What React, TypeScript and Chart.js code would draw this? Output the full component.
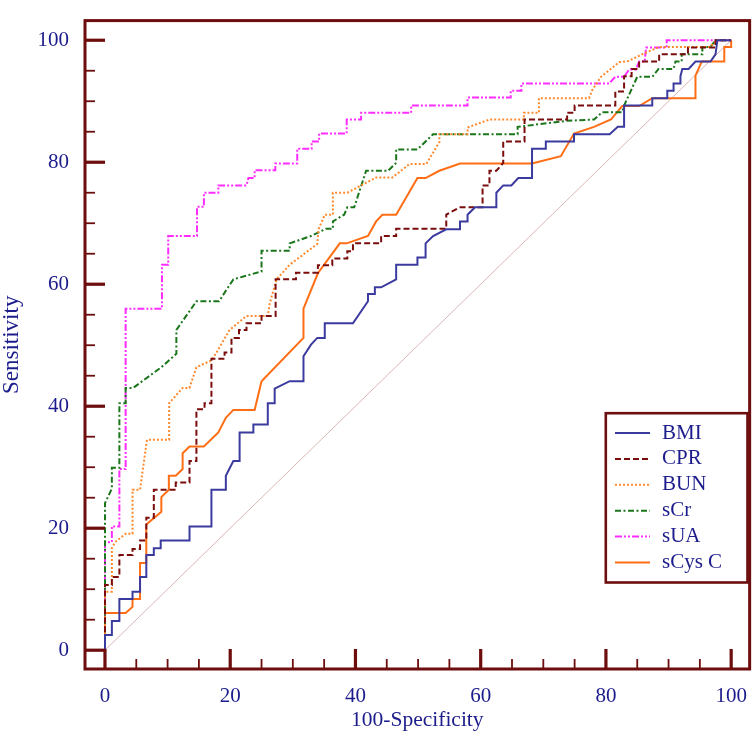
import React, { useEffect, useRef } from "react";
import { Chart, registerables } from "chart.js";

Chart.register(...registerables);

type Pt = [number, number];

// ROC curves: [100 - specificity, sensitivity]
const BMI: Pt[] = [
  [0, 0], [0, 2.5], [1.1, 2.5], [1.1, 4.8], [2.3, 4.8], [2.3, 8.4], [4.4, 8.4], [4.4, 9.6],
  [5.6, 9.6], [5.6, 12.0], [6.6, 12.0], [6.6, 15.6], [7.8, 15.6], [7.8, 16.7], [8.9, 16.7],
  [8.9, 18.0], [13.5, 18.0], [13.5, 20.3], [17.0, 20.3], [17.0, 26.3], [19.3, 26.3], [19.3, 28.6],
  [20.5, 31.0], [21.5, 31.0], [21.5, 35.7], [23.7, 35.7], [23.7, 37.0], [26.0, 37.0], [26.0, 40.5],
  [27.1, 40.5], [27.1, 42.9], [29.5, 44.1], [31.7, 44.1], [31.7, 48.2], [32.9, 50.1], [33.9, 51.2],
  [35.1, 51.2], [35.1, 53.6], [39.6, 53.6], [42.0, 57.2], [42.0, 58.4], [43.1, 58.4], [43.1, 59.5],
  [44.1, 59.5], [46.5, 60.8], [46.5, 63.2], [49.9, 63.2], [49.9, 64.4], [51.2, 64.4], [51.2, 66.7],
  [52.4, 67.9], [54.5, 69.0], [56.7, 69.0], [56.7, 70.3], [57.9, 70.3], [57.9, 71.4], [59.1, 72.6],
  [62.5, 72.6], [62.5, 75.0], [63.6, 76.2], [64.9, 76.2], [66.0, 77.4], [68.2, 77.4], [68.2, 82.2],
  [70.4, 82.2], [70.4, 83.4], [74.9, 83.4], [74.9, 84.6], [80.6, 84.6], [81.9, 85.8], [82.9, 85.8],
  [82.9, 89.3], [87.4, 89.3], [87.4, 90.5], [89.8, 90.5], [89.8, 91.7], [90.8, 91.7], [90.8, 92.9],
  [91.9, 92.9], [91.9, 94.1], [92.2, 95.3], [93.2, 95.3], [94.3, 96.5], [96.7, 96.5], [97.5, 97.7],
  [97.8, 100], [100, 100],
];

const CPR: Pt[] = [
  [0, 0], [0, 10.7], [1.1, 10.7], [1.1, 12.0], [2.3, 12.0], [2.3, 15.6], [4.4, 15.6], [4.4, 16.6],
  [5.6, 16.6], [5.6, 18.0], [6.6, 18.0], [6.6, 21.7], [7.8, 21.7], [7.8, 26.3], [11.3, 26.3],
  [11.3, 27.5], [13.5, 27.5], [13.5, 31.0], [14.6, 31.0], [14.6, 39.5], [15.9, 39.5], [15.9, 40.5],
  [17.0, 40.5], [17.0, 47.8], [19.1, 47.8], [19.1, 48.8], [20.2, 48.8], [20.2, 51.2], [21.4, 51.2],
  [21.4, 52.5], [22.6, 52.5], [22.6, 53.6], [25.0, 53.6], [25.0, 54.8], [27.25, 54.8], [27.25, 60.8],
  [30.5, 60.8], [30.5, 61.9], [34.0, 61.9], [34.0, 63.1], [36.3, 63.1], [36.3, 64.2], [38.7, 64.2],
  [38.7, 65.4], [39.6, 65.4], [39.6, 66.7], [44.1, 66.7], [44.1, 67.9], [46.5, 67.9], [46.5, 69.1],
  [54.5, 69.1], [54.5, 71.4], [56.6, 72.6], [60.3, 72.6], [60.3, 76.2], [61.4, 76.2], [61.4, 78.6],
  [62.5, 78.6], [63.6, 79.9], [63.6, 83.4], [67.0, 83.4], [67.0, 87.0], [73.8, 87.0], [73.8, 88.1],
  [75.0, 88.1], [75.0, 89.3], [81.5, 89.3], [81.5, 91.6], [82.9, 91.6], [82.9, 94.1], [84.1, 94.1],
  [84.1, 95.3], [85.3, 95.3], [85.3, 96.5], [88.5, 96.5], [88.5, 97.7], [93.1, 97.7], [93.1, 98.8],
  [97.5, 98.8], [97.5, 100], [100, 100],
];

const BUN: Pt[] = [
  [0, 0], [0, 9.6], [1.1, 9.6], [1.1, 16.7], [1.6, 17.7], [3.3, 19.1], [4.4, 19.1], [4.4, 26.3],
  [5.6, 26.3], [6.7, 34.5], [10.25, 34.5], [10.25, 40.5], [11.2, 41.6], [12.4, 43.0], [13.5, 43.0],
  [14.6, 46.4], [17.0, 47.5], [17.8, 48.8], [19.9, 52.5], [22.6, 54.8], [26.0, 54.8], [26.3, 56.8],
  [27.4, 60.8], [29.5, 63.2], [33.9, 66.6], [34.1, 69.0], [35.1, 71.4], [36.4, 71.4], [36.4, 75.0],
  [38.7, 75.0], [40.9, 76.2], [43.3, 77.5], [45.9, 77.5], [48.6, 79.7], [51.3, 79.7], [53.4, 83.3],
  [53.4, 84.6], [57.9, 84.6], [57.9, 85.7], [61.4, 87.0], [66.9, 87.0], [66.9, 88.1], [69.3, 88.1],
  [69.3, 90.5], [77.3, 90.5], [77.8, 91.8], [79.2, 94.0], [82.1, 96.4], [83.6, 96.6], [85.8, 97.7],
  [88.5, 98.9], [96.6, 98.9], [97.7, 100], [100, 100],
];

const SCR: Pt[] = [
  [0, 0], [0, 24.1], [1.1, 26.5], [1.1, 29.9], [2.3, 29.9], [2.3, 40.5], [3.3, 40.5], [3.3, 43.0],
  [4.5, 43.0], [9.0, 46.4], [11.4, 48.6], [11.4, 52.5], [14.6, 57.2], [18.2, 57.2], [20.5, 60.8],
  [25.0, 62.1], [25.0, 65.5], [29.5, 65.5], [29.5, 66.7], [32.9, 67.9], [35.3, 69.1], [36.4, 69.1],
  [36.4, 70.3], [38.2, 71.4], [38.7, 72.6], [39.8, 72.6], [41.7, 78.6], [45.2, 78.6], [46.5, 79.9],
  [46.5, 82.1], [49.9, 82.1], [52.4, 84.6], [65.9, 84.6], [65.9, 85.8], [73.8, 86.8], [78.1, 87.0],
  [79.4, 88.2], [82.6, 88.2], [82.9, 89.3], [85.0, 94.0], [87.4, 94.0], [88.4, 95.3], [90.8, 95.3],
  [91.1, 96.5], [92.1, 96.5], [92.1, 97.7], [95.4, 97.7], [95.4, 98.9], [96.7, 98.9], [97.5, 100],
  [100, 100],
];

const SUA: Pt[] = [
  [0, 0], [0, 17.7], [1.1, 17.7], [1.1, 20.3], [2.3, 20.3], [2.3, 29.7], [3.3, 29.7], [3.3, 56.0],
  [9.1, 56.0], [9.1, 63.2], [10.1, 63.2], [10.1, 67.9], [14.7, 67.9], [14.7, 72.7], [15.8, 72.7],
  [15.8, 75.0], [18.1, 75.0], [18.1, 76.2], [22.6, 76.2], [22.9, 77.4], [23.9, 77.4], [23.9, 78.7],
  [27.2, 78.7], [27.2, 79.8], [30.7, 79.8], [30.7, 82.2], [33.0, 82.2], [33.0, 83.4], [34.2, 83.4],
  [34.2, 84.7], [38.6, 84.7], [38.6, 87.0], [40.9, 87.0], [40.9, 88.1], [48.9, 88.1], [48.9, 89.3],
  [57.9, 89.3], [57.9, 90.6], [64.8, 90.6], [64.8, 91.7], [66.5, 91.7], [66.5, 92.9], [80.5, 92.9],
  [81.5, 94.0], [82.9, 94.0], [83.7, 95.2], [84.8, 95.2], [85.3, 96.5], [86.2, 96.5], [86.4, 98.8],
  [89.7, 98.8], [89.7, 100], [100, 100],
];

const SCYSC: Pt[] = [
  [0, 0], [0, 6.1], [3.3, 6.1], [4.4, 7.1], [4.4, 8.4], [5.6, 8.4], [5.6, 14.3], [6.6, 14.3],
  [6.6, 20.6], [9.0, 22.7], [9.0, 25.1], [10.2, 26.3], [10.2, 28.6], [11.3, 28.6], [12.4, 29.7],
  [12.4, 32.3], [13.5, 33.4], [15.8, 33.4], [18.1, 35.7], [19.3, 38.1], [20.5, 39.4], [23.9, 39.4],
  [25.0, 44.1], [31.7, 51.2], [31.7, 56.0], [34.0, 61.8], [37.5, 66.7], [38.6, 66.7], [42.0, 67.9],
  [43.3, 70.3], [44.3, 71.4], [46.5, 71.4], [49.9, 77.4], [51.2, 77.4], [53.4, 78.6], [56.7, 79.8],
  [68.2, 79.8], [72.8, 81.0], [74.9, 84.7], [78.1, 85.8], [80.8, 87.0], [82.6, 89.2], [85.3, 89.2],
  [87.4, 90.5], [94.3, 90.5], [94.3, 94.2], [95.3, 96.5], [98.9, 96.5], [98.9, 98.9], [100, 98.9],
  [100, 100],
];

const REFERENCE_LINE: Pt[] = [[0, 0], [100, 100]];

const SERIES_NAMES = ["BMI", "CPR", "BUN", "sCr", "sUA", "sCys C"];
const SERIES_DATA = [BMI, CPR, BUN, SCR, SUA, SCYSC];
const SERIES_COLORS = ["#3b3b9f", "#7a0c0c", "#ff8a2e", "#1a761a", "#ff2cff", "#ff6e14"];
const SERIES_DASHES: number[][] = [[], [6, 3], [2, 2], [6, 2.5, 2, 2.5], [7, 2, 2, 2, 2, 2], []];

const AXIS_TICKS = [0, 20, 40, 60, 80, 100];
const MINOR_TICKS = [5, 10, 15, 25, 30, 35, 45, 50, 55, 65, 70, 75, 85, 90, 95];

const FRAME_COLOR = "#6d0d0d";
const TEXT_COLOR = "#1c1c8c";
const FONT = "'Liberation Serif', 'Times New Roman', serif";

const framePlugin = {
  id: "rocFrame",
  afterDraw(chart: any) {
    const { ctx, chartArea: a, scales } = chart;
    const xs = scales.x;
    const ys = scales.y;
    ctx.save();
    ctx.strokeStyle = FRAME_COLOR;
    ctx.lineCap = "butt";

    // inward tick marks on the left and bottom edges
    ctx.lineWidth = 3.2;
    for (const v of AXIS_TICKS) {
      const py = ys.getPixelForValue(v);
      ctx.beginPath();
      ctx.moveTo(a.left, py);
      ctx.lineTo(a.left + 20, py);
      ctx.stroke();
      const px = xs.getPixelForValue(v);
      ctx.beginPath();
      ctx.moveTo(px, a.bottom);
      ctx.lineTo(px, a.bottom - 20);
      ctx.stroke();
    }
    ctx.lineWidth = 1.8;
    for (const v of MINOR_TICKS) {
      const py = ys.getPixelForValue(v);
      ctx.beginPath();
      ctx.moveTo(a.left, py);
      ctx.lineTo(a.left + 10, py);
      ctx.stroke();
      const px = xs.getPixelForValue(v);
      ctx.beginPath();
      ctx.moveTo(px, a.bottom);
      ctx.lineTo(px, a.bottom - 10);
      ctx.stroke();
    }

    // frame
    ctx.lineWidth = 3;
    ctx.strokeRect(a.left, a.top, a.right - a.left, a.bottom - a.top);

    // legend box
    const bx = 605.8, by = 413.2, bw = 141.7, bh = 169.3;
    ctx.fillStyle = "#ffffff";
    ctx.fillRect(bx, by, bw, bh);
    ctx.lineWidth = 2.6;
    ctx.strokeRect(bx, by, bw, bh);

    ctx.font = `21px ${FONT}`;
    ctx.textBaseline = "middle";
    ctx.textAlign = "left";
    chart.data.datasets.forEach((ds: any, i: number) => {
      if (i >= SERIES_NAMES.length) return;
      const rowY = 433 + i * 25.9;
      ctx.save();
      ctx.strokeStyle = ds.borderColor;
      ctx.lineWidth = 2;
      ctx.setLineDash(ds.borderDash || []);
      ctx.beginPath();
      ctx.moveTo(615, rowY);
      ctx.lineTo(650, rowY);
      ctx.stroke();
      ctx.restore();
      ctx.fillStyle = TEXT_COLOR;
      ctx.fillText(ds.label, 662, rowY);
    });
    ctx.restore();
  },
};

export default function App() {
  const canvasRef = useRef<HTMLCanvasElement | null>(null);

  useEffect(() => {
    const canvas = canvasRef.current;
    if (!canvas) return;

    const datasets: any[] = SERIES_NAMES.map((name, i) => ({
      label: name,
      data: SERIES_DATA[i].map(([x, y]) => ({ x, y })),
      showLine: true,
      borderColor: SERIES_COLORS[i],
      borderWidth: 2,
      borderDash: SERIES_DASHES[i],
      pointRadius: 0,
      fill: false,
      tension: 0,
    }));
    datasets.push({
      label: "reference",
      data: REFERENCE_LINE.map(([x, y]) => ({ x, y })),
      showLine: true,
      borderColor: "#dcb6b6",
      borderWidth: 1,
      pointRadius: 0,
      fill: false,
    });

    const tickFont = { family: FONT, size: 21 };

    const chart = new Chart(canvas, {
      type: "scatter",
      data: { datasets },
      options: {
        responsive: false,
        animation: false,
        events: [],
        layout: { padding: { top: 2, right: 3, bottom: 0, left: 0 } },
        plugins: { legend: { display: false }, tooltip: { enabled: false } },
        scales: {
          x: {
            type: "linear",
            min: -3.19,
            max: 102.95,
            afterBuildTicks: (s: any) => {
              s.ticks = AXIS_TICKS.map((v) => ({ value: v }));
            },
            afterFit: (s: any) => {
              s.height = 64;
            },
            grid: { display: false },
            border: { display: false },
            ticks: { color: TEXT_COLOR, font: tickFont, padding: 7, maxRotation: 0, autoSkip: false },
            title: {
              display: true,
              text: "100-Specificity",
              color: TEXT_COLOR,
              font: { family: FONT, size: 21.5, lineHeight: 1 },
              padding: { top: 0, bottom: 2 },
            },
          },
          y: {
            type: "linear",
            min: -3.08,
            max: 103.22,
            afterBuildTicks: (s: any) => {
              s.ticks = AXIS_TICKS.map((v) => ({ value: v }));
            },
            afterFit: (s: any) => {
              s.width = 85;
            },
            grid: { display: false },
            border: { display: false },
            ticks: { color: TEXT_COLOR, font: tickFont, padding: 8, autoSkip: false },
            title: {
              display: true,
              text: "Sensitivity",
              color: TEXT_COLOR,
              font: { family: FONT, size: 23, lineHeight: 1 },
              padding: { top: 0, bottom: 0 },
            },
          },
        },
      } as any,
      plugins: [framePlugin],
    });

    return () => chart.destroy();
  }, []);

  return (
    <div style={{ position: "absolute", left: 0, top: 0, width: 754, height: 733, background: "#fff" }}>
      <canvas ref={canvasRef} width={754} height={733} style={{ display: "block" }} />
    </div>
  );
}
